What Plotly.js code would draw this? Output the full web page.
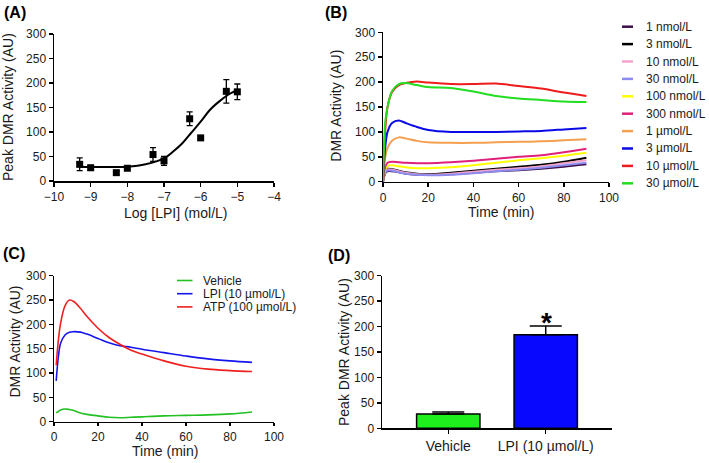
<!DOCTYPE html>
<html>
<head>
<meta charset="utf-8">
<script src="https://cdn.plot.ly/plotly-3.0.1.min.js"></script>
<style>html,body{margin:0;padding:0;background:#fff;}#chart{width:709px;height:463px;}</style>
</head>
<body>
<div id="chart"></div>
<script>
// ---------- Panel A: concentration-response ----------
var logLPI = [-9.3, -9, -8.3, -8, -7.3, -7, -6.3, -6, -5.3, -5];
var peakDMR = [34, 27, 17, 26, 54, 41, 127, 88, 183, 182];
var peakErr = [13, 5, 4, 3, 14, 9, 14, 4, 24, 16];
var fitLog = [-9.3, -9, -8.5, -8, -7.5, -7, -6.75, -6.5, -6.25, -6, -5.75, -5.5, -5.25, -5];
var fitDMR = [29, 28.5, 28.5, 29, 34, 46, 60, 77, 99, 121, 145, 162, 176, 186];

// ---------- Panel B: DMR time courses per concentration ----------
var timeB = [0, 1, 2, 4, 7, 10, 15, 20, 30, 40, 50, 60, 70, 80, 90];
var seriesB = [
  {name: '1 nmol/L',   color: '#3d0f4a', y: [0, 17, 21, 21, 19, 16, 14, 14, 15, 18, 21, 23, 26, 30, 35]},
  {name: '3 nmol/L',   color: '#000000', y: [0, 20, 26, 25, 22, 19, 16, 15, 18, 22, 26, 30, 34, 40, 48]},
  {name: '10 nmol/L',  color: '#f5a3cb', y: [0, 20, 25, 24, 21, 18, 15, 14, 16, 20, 24, 27, 31, 37, 43]},
  {name: '30 nmol/L',  color: '#8c8cf0', y: [0, 18, 23, 22, 19, 16, 14, 13, 14, 17, 21, 24, 28, 33, 38]},
  {name: '100 nmol/L', color: '#ffff00', y: [0, 25, 32, 33, 31, 29, 27, 27, 29, 33, 38, 43, 47, 52, 58]},
  {name: '300 nmol/L', color: '#e0207a', y: [0, 30, 38, 40, 39, 38, 37, 37, 39, 42, 46, 50, 53, 59, 66]},
  {name: '1 µmol/L',   color: '#f5a050', y: [0, 50, 68, 82, 89, 87, 82, 79, 78, 78, 79, 80, 81, 83, 85]},
  {name: '3 µmol/L',   color: '#0a0ae6', y: [0, 70, 100, 118, 123, 118, 110, 104, 100, 100, 100, 101, 102, 105, 108]},
  {name: '10 µmol/L',  color: '#ee1c1c', y: [0, 105, 150, 180, 194, 198, 201, 199, 196, 196, 197, 192, 187, 179, 172]},
  {name: '30 µmol/L',  color: '#22dd22', y: [0, 120, 150, 182, 196, 198, 194, 190, 188, 181, 172, 167, 164, 161, 160]}
];

// ---------- Panel C: vehicle / LPI / ATP ----------
var timeC = [1, 2, 3, 5, 7, 9, 12, 15, 20, 25, 30, 35, 40, 50, 60, 70, 80, 90];
var vehicleC = [18, 21, 24, 26, 25, 23, 18, 15, 12, 9, 8, 9, 10, 12, 13, 14, 16, 20];
var lpiC = [84, 134, 161, 178, 184, 185, 184, 180, 171, 162, 156, 153, 149, 142, 135, 129, 125, 122];
var atpC = [116, 168, 202, 238, 250, 247, 233, 216, 192, 173, 159, 147, 139, 125, 114, 108, 105, 103];
var namesC = ['Vehicle', 'LPI (10 µmol/L)', 'ATP (100 µmol/L)'];
var colorsC = ['#22c022', '#1515ee', '#ee2020'];

// ---------- Panel D: peak bars ----------
var groupsD = ['Vehicle', 'LPI (10 µmol/L)'];
var peakD = [28, 184];
var errD = [4, 17];
var colorsD = ['#1ef01e', '#0808ff'];

// ---------- helpers ----------
var W = 709, H = 463;
function px(x) { return x / W; }
function py(y) { return 1 - y / H; }
var FONT = 'Liberation Sans, Arial, Helvetica, sans-serif';
var TXT = '#1a1a1a';

function axisStyle(extra) {
  var a = {
    showline: true, linecolor: '#000', linewidth: 1.5,
    ticks: 'outside', ticklen: 4, tickwidth: 1.5, tickcolor: '#000',
    showgrid: false, zeroline: false, fixedrange: true,
    tickfont: {family: FONT, size: 12, color: TXT}
  };
  for (var k in extra) a[k] = extra[k];
  return a;
}

var traces = [];
// A
traces.push({
  x: fitLog, y: fitDMR, xaxis: 'x', yaxis: 'y', type: 'scatter', mode: 'lines',
  line: {color: '#000', width: 2, shape: 'spline', smoothing: 1}, showlegend: false, hoverinfo: 'skip'
});
traces.push({
  x: logLPI, y: peakDMR, xaxis: 'x', yaxis: 'y', type: 'scatter', mode: 'markers',
  marker: {symbol: 'square', size: 7, color: '#000'},
  error_y: {type: 'data', array: peakErr, visible: true, color: '#000', thickness: 1.3, width: 3},
  showlegend: false
});
// B
seriesB.forEach(function (s) {
  traces.push({
    x: timeB, y: s.y, xaxis: 'x2', yaxis: 'y2', type: 'scatter', mode: 'lines', name: s.name,
    line: {color: s.color, width: 2, shape: 'spline', smoothing: 0.8}, showlegend: false
  });
});
// C
[vehicleC, lpiC, atpC].forEach(function (ys, i) {
  traces.push({
    x: timeC, y: ys, xaxis: 'x3', yaxis: 'y3', type: 'scatter', mode: 'lines', name: namesC[i],
    line: {color: colorsC[i], width: 1.6, shape: 'spline', smoothing: 1}, showlegend: false
  });
});
// D
traces.push({
  x: groupsD, y: peakD, xaxis: 'x4', yaxis: 'y4', type: 'bar', width: 0.65,
  marker: {color: colorsD, line: {color: '#000', width: 1.5}},
  error_y: {type: 'data', symmetric: false, array: errD, arrayminus: [0, 0], visible: true,
            color: '#000', thickness: 1.5, width: 16},
  showlegend: false
});

var annotations = [];
var shapes = [];
function label(text, x, y, opts) {
  var a = {text: text, xref: 'paper', yref: 'paper', x: px(x), y: py(y), showarrow: false,
           xanchor: 'center', yanchor: 'middle', font: {family: FONT, size: 14, color: TXT}};
  for (var k in opts) a[k] = opts[k];
  annotations.push(a);
}
// panel letters
var bold = {family: FONT, size: 16, color: '#000', weight: 'bold'};
label('<b>(A)</b>', 2, 12.5, {xanchor: 'left', font: bold});
label('<b>(B)</b>', 323, 12, {xanchor: 'left', font: bold});
label('<b>(C)</b>', 1, 253, {xanchor: 'left', font: bold});
label('<b>(D)</b>', 326, 255, {xanchor: 'left', font: bold});
// axis titles
label('Peak DMR Activity (AU)', 8.5, 107.5, {textangle: -90});
label('Log [LPI] (mol/L)', 176, 213);
label('DMR Activity (AU)', 336, 105.7, {textangle: -90});
label('Time (min)', 501, 212);
label('DMR Activity (AU)', 14, 341.5, {textangle: -90});
label('Time (min)', 165, 451, {borderpad: 0});
label('Peak DMR Activity (AU)', 344, 352, {textangle: -90});
// significance star
label('<b>*</b>', 546, 322, {font: {family: FONT, size: 28, color: '#000'}});

// legend B
seriesB.forEach(function (s, i) {
  var yy = 26.7 + i * 17.4;
  shapes.push({type: 'line', xref: 'paper', yref: 'paper', x0: px(622), x1: px(633), y0: py(yy), y1: py(yy),
               line: {color: s.color, width: 2.5}});
  label(s.name, 644, yy, {xanchor: 'left', font: {family: FONT, size: 12, color: TXT}});
});
// legend C
namesC.forEach(function (n, i) {
  var yy = 280.5 + i * 13.2;
  shapes.push({type: 'line', xref: 'paper', yref: 'paper', x0: px(177), x1: px(192.5), y0: py(yy), y1: py(yy),
               line: {color: colorsC[i], width: 1.6}});
  label(n, 200.5, yy, {xanchor: 'left', font: {family: FONT, size: 12, color: TXT}});
});

var layout = {
  width: W, height: H, margin: {l: 0, r: 0, t: 0, b: 0},
  paper_bgcolor: '#fff', plot_bgcolor: '#fff', showlegend: false,
  font: {family: FONT, color: TXT},
  xaxis: axisStyle({domain: [px(54), px(274)], range: [-10, -4], dtick: 1, anchor: 'y'}),
  yaxis: axisStyle({domain: [py(181), py(34)], range: [0, 300], dtick: 50, anchor: 'x'}),
  xaxis2: axisStyle({domain: [px(383), px(609)], range: [0, 100], dtick: 20, anchor: 'y2'}),
  yaxis2: axisStyle({domain: [py(181.7), py(32.3)], range: [0, 300], dtick: 50, anchor: 'x2'}),
  xaxis3: axisStyle({domain: [px(54), px(274)], range: [0, 100], dtick: 20, anchor: 'y3', ticklen: 3}),
  yaxis3: axisStyle({domain: [py(421.7), py(275.7)], range: [0, 300], dtick: 50, anchor: 'x3'}),
  xaxis4: axisStyle({domain: [px(382), px(612)], range: [-0.68, 1.68], type: 'category', anchor: 'y4',
                     tickfont: {family: FONT, size: 14, color: TXT}}),
  yaxis4: axisStyle({domain: [py(428.3), py(275.7)], range: [0, 300], dtick: 50, anchor: 'x4'}),
  annotations: annotations,
  shapes: shapes
};

Plotly.newPlot('chart', traces, layout, {displayModeBar: false, staticPlot: true});
</script>
</body>
</html>
